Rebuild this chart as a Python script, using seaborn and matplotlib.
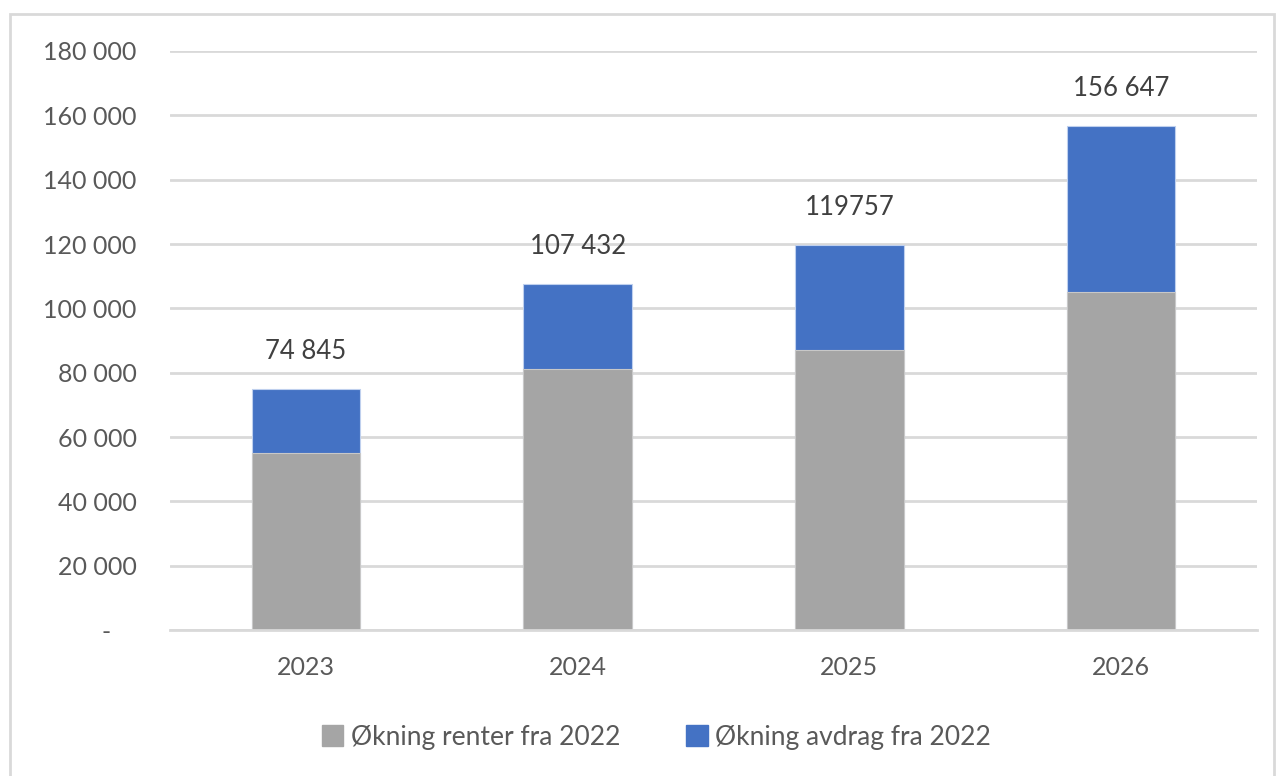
import matplotlib.pyplot as plt
import seaborn as sns
import pandas as pd
from matplotlib.patches import Patch, Rectangle

# data
years = ["2023", "2024", "2025", "2026"]
renter = [55000, 81000, 87000, 105000]
avdrag = [19845, 26432, 32757, 51647]
total_labels = ["74 845", "107 432", "119757", "156 647"]
y_ticks = [0, 20000, 40000, 60000, 80000, 100000, 120000, 140000, 160000, 180000]
y_tick_labels = ["-    ", "20 000", "40 000", "60 000", "80 000", "100 000",
                 "120 000", "140 000", "160 000", "180 000"]

GRAY = "#A5A5A5"
BLUE = "#4472C4"
TEXT = "#595959"
GRID = "#D9D9D9"

df = pd.DataFrame({"year": years, "renter": renter, "avdrag": avdrag})
df["total"] = df["renter"] + df["avdrag"]

sns.set_style("white")
plt.rcParams["font.family"] = ["Lato", "DejaVu Sans"]

fig = plt.figure(figsize=(12.8, 7.76), dpi=100)
ax = fig.add_axes([0.1328, 0.1881, 0.8492, 0.7462])

# stacked bars: total (blue) behind, renter (gray) in front
sns.barplot(data=df, x="year", y="total", color=BLUE, width=0.4, saturation=1,
            ax=ax, zorder=3, edgecolor="#BFD0EE", linewidth=0.8)
sns.barplot(data=df, x="year", y="renter", color=GRAY, width=0.4, saturation=1,
            ax=ax, zorder=4, edgecolor="#C8C8C8", linewidth=0.8)

for i, lab in enumerate(total_labels):
    ax.annotate(lab, (i, df["total"][i]), xytext=(0, 18), textcoords="offset points",
                ha="center", va="bottom", fontsize=18.5, color="#404040")

ax.set_xlim(-0.5, 3.5)
ax.set_ylim(0, 180000)
ax.set_yticks(y_ticks)
ax.set_yticklabels(y_tick_labels)
ax.tick_params(axis="y", length=0, pad=24, labelsize=18, labelcolor=TEXT)
ax.tick_params(axis="x", length=0, pad=19, labelsize=18, labelcolor=TEXT)
ax.set_xlabel("")
ax.set_ylabel("")
ax.yaxis.grid(True, color=GRID, linewidth=2, zorder=0)
ax.set_axisbelow(True)
for s in ["top", "right", "left"]:
    ax.spines[s].set_visible(False)
ax.spines["bottom"].set_color(GRID)
ax.spines["bottom"].set_linewidth(2)
ax.spines["bottom"].set_zorder(5)

handles = [Patch(color=GRAY, label="Økning renter fra 2022"),
           Patch(color=BLUE, label="Økning avdrag fra 2022")]
fig.legend(handles=handles, loc="center", bbox_to_anchor=(0.513, 0.05), ncol=2,
           frameon=False, fontsize=19, labelcolor=TEXT, handlelength=0.8,
           handleheight=0.8, handletextpad=0.3, columnspacing=2.5)

# light chart border
fig.patches.append(Rectangle((10 / 1280, -0.05), 1264 / 1280, 1.05 - 14 / 776,
                             transform=fig.transFigure, fill=False,
                             edgecolor=GRID, linewidth=2))

fig.savefig("out.png", dpi=100)
